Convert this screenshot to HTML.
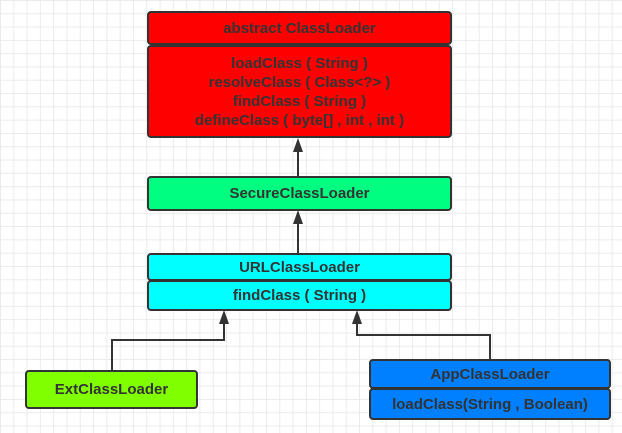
<!DOCTYPE html>
<html><head><meta charset="utf-8"><style>
body{margin:0;width:622px;height:433px;overflow:hidden;background:#fff;
background-image:linear-gradient(#ebebeb 1px,transparent 1px),linear-gradient(90deg,#ebebeb 1px,transparent 1px);background-size:13.3px 13.3px;
font-family:"Liberation Sans",sans-serif;}
.b{position:absolute;box-sizing:border-box;border:2px solid #333;border-radius:4px;color:#333;font-weight:bold;font-size:15px;text-align:center;display:flex;align-items:center;justify-content:center;line-height:19px}
</style></head><body>
<svg width="622" height="433" style="position:absolute;left:0;top:0">
<g stroke="#333" stroke-width="2" fill="none">
<line x1="298" y1="176" x2="298" y2="150"/>
<line x1="298" y1="253" x2="298" y2="222"/>
<polyline points="112,370 112,340 224,340 224,322"/>
<polyline points="490,359 490,335 357,335 357,322"/>
</g>
<g fill="#333">
<polygon points="298,138 293,152 303,152"/>
<polygon points="298,210 293,224 303,224"/>
<polygon points="224,310 219,324 229,324"/>
<polygon points="357,310 352,324 362,324"/>
</g>
</svg>
<div class="b" style="left:147px;top:11px;width:305px;height:34px;background:#f00">abstract ClassLoader</div>
<div class="b" style="left:147px;top:45px;width:305px;height:93px;background:#f00">loadClass ( String )<br>resolveClass ( Class&lt;?&gt; )<br>findClass ( String )<br>defineClass ( byte[] , int , int )</div>
<div class="b" style="left:147px;top:176px;width:305px;height:35px;background:#00ff80">SecureClassLoader</div>
<div class="b" style="left:147px;top:253px;width:305px;height:28px;background:#0ff">URLClassLoader</div>
<div class="b" style="left:147px;top:280px;width:305px;height:31px;background:#0ff">findClass ( String )</div>
<div class="b" style="left:25px;top:370px;width:173px;height:39px;background:#80ff00">ExtClassLoader</div>
<div class="b" style="left:369px;top:359px;width:242px;height:30px;background:#007fff">AppClassLoader</div>
<div class="b" style="left:369px;top:388px;width:242px;height:32px;background:#007fff">loadClass(String , Boolean)</div>
</body></html>
